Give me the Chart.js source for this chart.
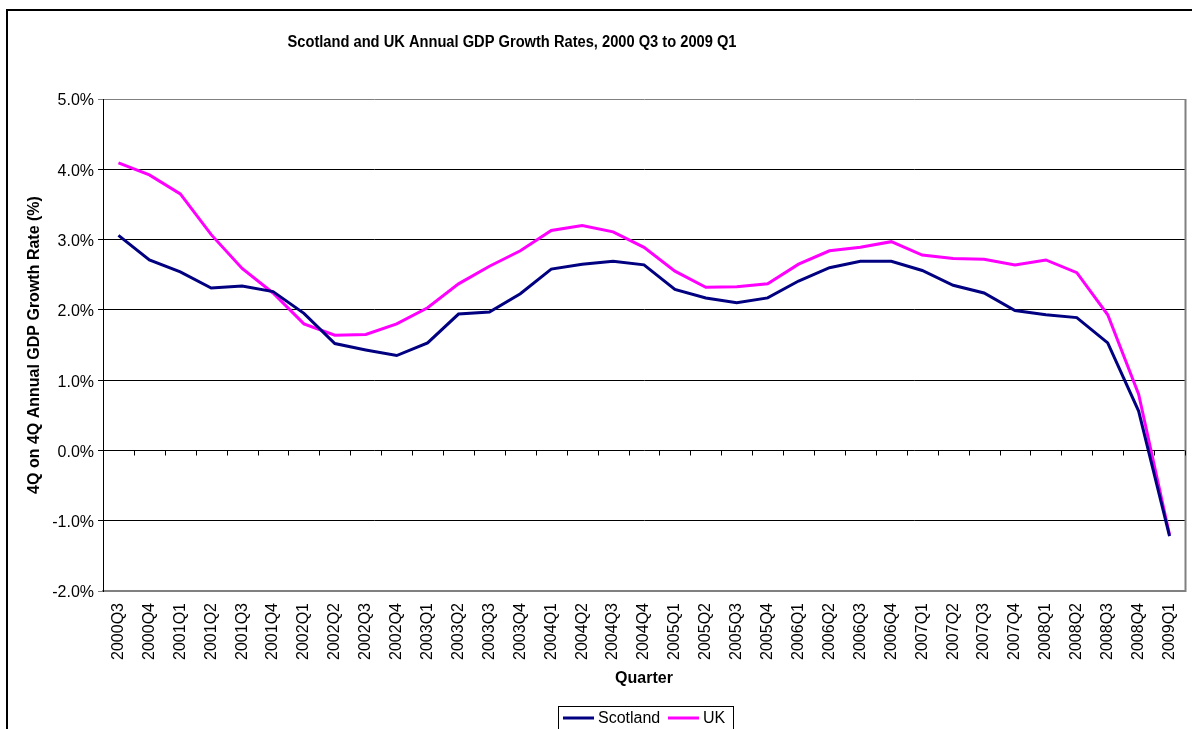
<!DOCTYPE html>
<html>
<head>
<meta charset="utf-8">
<script src="https://cdn.jsdelivr.net/npm/chart.js@4/dist/chart.umd.min.js"></script>
<style>
html,body{margin:0;padding:0;background:#fff;}
#c{display:block;}
</style>
</head>
<body>
<canvas id="c" width="1192" height="729"></canvas>
<script>
const categories = ["2000Q3","2000Q4","2001Q1","2001Q2","2001Q3","2001Q4","2002Q1","2002Q2","2002Q3","2002Q4",
  "2003Q1","2003Q2","2003Q3","2003Q4","2004Q1","2004Q2","2004Q3","2004Q4","2005Q1","2005Q2",
  "2005Q3","2005Q4","2006Q1","2006Q2","2006Q3","2006Q4","2007Q1","2007Q2","2007Q3","2007Q4",
  "2008Q1","2008Q2","2008Q3","2008Q4","2009Q1"];
const scotland = [3.06,2.71,2.54,2.31,2.34,2.26,1.95,1.52,1.43,1.35,1.53,1.94,1.97,2.23,2.58,2.65,2.69,2.64,2.29,2.17,
  2.10,2.17,2.41,2.60,2.69,2.69,2.56,2.35,2.24,1.99,1.93,1.89,1.53,0.56,-1.22];
const uk = [4.09,3.92,3.65,3.07,2.59,2.24,1.80,1.64,1.65,1.80,2.03,2.37,2.62,2.84,3.13,3.20,3.11,2.89,2.55,2.32,
  2.33,2.37,2.65,2.84,2.89,2.97,2.78,2.73,2.72,2.64,2.71,2.53,1.93,0.80,-1.20];
const yMin = -2, yMax = 5, yStep = 1;
const titleText = "Scotland and UK Annual GDP Growth Rates, 2000 Q3 to 2009 Q1";
const yTitle = "4Q on 4Q Annual GDP Growth Rate (%)";
const xTitle = "Quarter";

const FONT = "'Liberation Sans', Arial, sans-serif";

const decor = {
  id: 'decor',
  beforeDraw(chart) {
    const c = chart.ctx;
    c.save();
    c.fillStyle = '#fff';
    c.fillRect(0, 0, chart.width, chart.height);
    c.restore();
  },
  afterDraw(chart) {
    const c = chart.ctx;
    const a = chart.chartArea;
    const xs = chart.scales.x, ys = chart.scales.y;
    c.save();
    // outer border
    c.strokeStyle = '#000';
    c.lineWidth = 2;
    c.strokeRect(7, 10, chart.width + 20, chart.height + 20);
    // right plot border
    c.strokeStyle = '#808080';
    c.lineWidth = 2;
    c.beginPath();
    c.moveTo(Math.round(a.right) + 0.5, a.top);
    c.lineTo(Math.round(a.right) + 0.5, a.bottom + 1);
    c.stroke();
    // x-axis tick marks on zero line
    const y0 = Math.round(ys.getPixelForValue(0)) + 0.5;
    c.strokeStyle = '#000';
    c.lineWidth = 1;
    c.beginPath();
    for (let i = 0; i <= categories.length; i++) {
      const x = Math.round(xs.getPixelForValue(i - 0.5)) + 0.5;
      c.moveTo(x, y0);
      c.lineTo(x, y0 + 5);
    }
    c.stroke();
    // title (slightly condensed)
    c.fillStyle = '#000';
    c.textAlign = 'center';
    c.textBaseline = 'middle';
    c.font = "bold 16px " + FONT;
    const tw = c.measureText(titleText).width;
    c.save();
    c.translate(512, 43);
    c.scale(449 / tw, 1);
    c.fillText(titleText, 0, 0);
    c.restore();
    // x title
    c.font = "bold 16px " + FONT;
    c.fillText(xTitle, (a.left + a.right) / 2, 679);
    // y title
    c.save();
    c.translate(35, (a.top + a.bottom) / 2);
    c.rotate(-Math.PI / 2);
    c.fillText(yTitle, 0, 0);
    c.restore();
    // legend
    const lx = 558, ly = 706, lw = 175, lh = 26;
    c.strokeStyle = '#000';
    c.lineWidth = 1;
    c.strokeRect(lx + 0.5, ly + 0.5, lw, lh);
    const ds = chart.data.datasets;
    const cy = 718;
    c.font = "16px " + FONT;
    c.textAlign = 'left';
    c.textBaseline = 'middle';
    const items = [{x: 563, tx: 598}, {x: 668, tx: 703}];
    ds.forEach((d, i) => {
      c.strokeStyle = d.borderColor;
      c.lineWidth = 3;
      c.beginPath();
      c.moveTo(items[i].x, cy);
      c.lineTo(items[i].x + 31, cy);
      c.stroke();
      c.fillStyle = '#000';
      c.fillText(d.label, items[i].tx, cy + 1);
    });
    c.restore();
  }
};

new Chart(document.getElementById('c'), {
  type: 'line',
  data: {
    labels: categories,
    datasets: [
      {label: 'Scotland', data: scotland, borderColor: '#000080', backgroundColor: '#000080',
       borderWidth: 3, pointRadius: 0, tension: 0, fill: false},
      {label: 'UK', data: uk, borderColor: '#FF00FF', backgroundColor: '#FF00FF',
       borderWidth: 3, pointRadius: 0, tension: 0, fill: false}
    ]
  },
  options: {
    responsive: false,
    animation: false,
    devicePixelRatio: 1,
    layout: {padding: {top: 99, right: 7, bottom: 0, left: 0}},
    plugins: {legend: {display: false}, title: {display: false}, tooltip: {enabled: false}},
    scales: {
      x: {
        type: 'category',
        offset: true,
        grid: {display: false, drawTicks: false},
        border: {display: true, color: '#808080', width: 2},
        ticks: {
          color: '#000', font: {family: FONT, size: 16},
          minRotation: 90, maxRotation: 90, autoSkip: false, padding: 12
        },
        afterFit(s) { s.height = 138; s.paddingLeft = 0; s.paddingRight = 0; }
      },
      y: {
        min: yMin, max: yMax,
        grid: {
          color: (ctx) => (ctx.tick && (ctx.tick.value === yMax || ctx.tick.value === yMin)) ? '#808080' : '#000',
          lineWidth: 1, tickLength: 5, drawTicks: true
        },
        border: {display: true, color: '#000', width: 1},
        ticks: {
          stepSize: yStep, color: '#000', font: {family: FONT, size: 16}, padding: 4, labelOffset: 2,
          callback: (v) => v.toFixed(1) + '%'
        },
        afterFit(s) { s.width = 103; s.paddingTop = 0; s.paddingBottom = 0; }
      }
    }
  },
  plugins: [decor]
});
</script>
</body>
</html>
